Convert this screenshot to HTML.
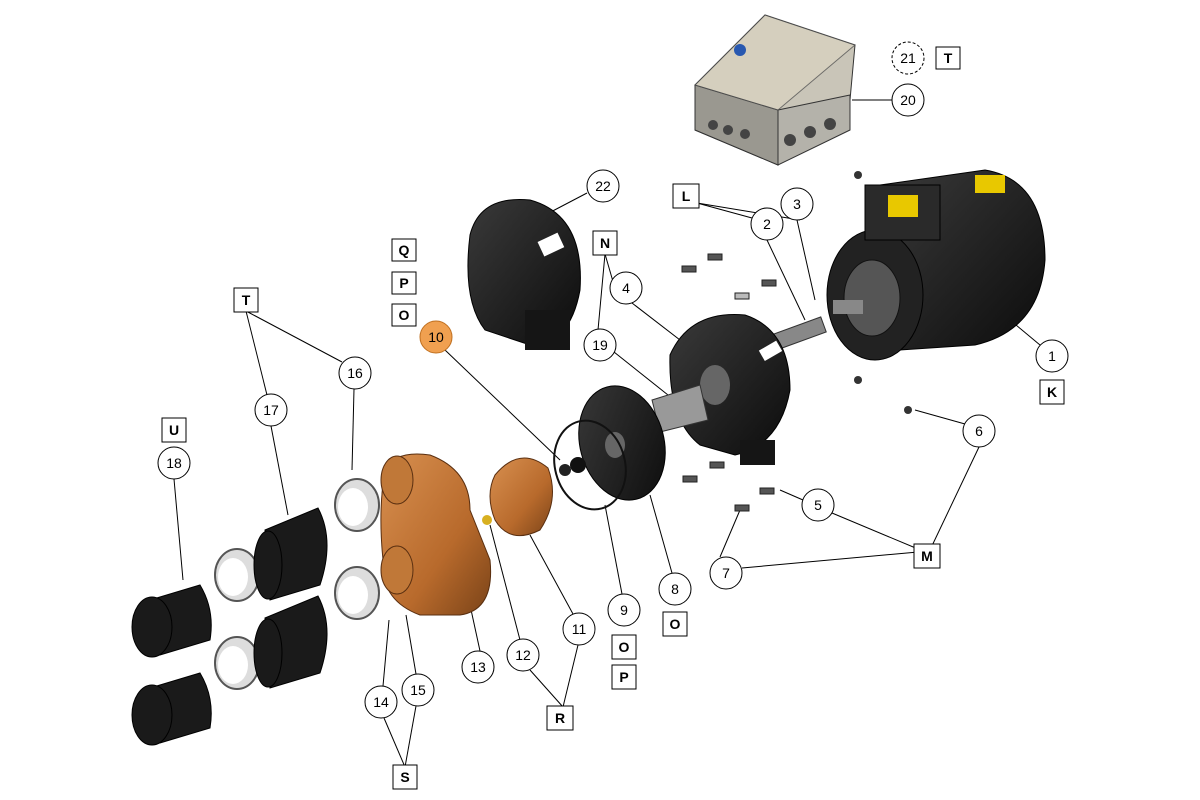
<!DOCTYPE html>
<html><head><meta charset="utf-8"><style>
html,body{margin:0;padding:0;background:#fff;width:1200px;height:800px;overflow:hidden}
svg text{font-family:"Liberation Sans",sans-serif;font-size:14px;fill:#000;text-anchor:middle;dominant-baseline:central}
</style></head><body>
<svg width="1200" height="800" viewBox="0 0 1200 800" xmlns="http://www.w3.org/2000/svg">
<defs>
<linearGradient id="cu" x1="0" y1="0" x2="1" y2="1"><stop offset="0" stop-color="#d89050"/><stop offset="0.6" stop-color="#b86a2c"/><stop offset="1" stop-color="#7a4318"/></linearGradient>
<linearGradient id="blk" x1="0" y1="0" x2="1" y2="1"><stop offset="0" stop-color="#3a3a3a"/><stop offset="1" stop-color="#0c0c0c"/></linearGradient>
</defs>
<g stroke="#000" stroke-width="1" fill="none">
<!-- leader lines -->
<line x1="852" y1="100" x2="892" y2="100"/>
<line x1="587" y1="193" x2="545" y2="215"/>
<line x1="697" y1="203" x2="800" y2="220"/><line x1="697" y1="203" x2="752" y2="218"/>
<line x1="797" y1="220" x2="815" y2="300"/><line x1="767" y1="240" x2="805" y2="320"/>
<line x1="605" y1="254" x2="614" y2="285"/><line x1="605" y1="254" x2="598" y2="330"/>
<line x1="632" y1="303" x2="680" y2="340"/>
<line x1="614" y1="352" x2="668" y2="395"/>
<line x1="445" y1="350" x2="560" y2="460"/>
<line x1="246" y1="311" x2="267" y2="395"/><line x1="246" y1="311" x2="342" y2="362"/>
<line x1="271" y1="426" x2="288" y2="515"/>
<line x1="354" y1="389" x2="352" y2="470"/>
<line x1="174" y1="479" x2="183" y2="580"/>
<line x1="1040" y1="345" x2="1010" y2="320"/>
<line x1="965" y1="424" x2="915" y2="410"/>
<line x1="979" y1="447" x2="930" y2="550"/>
<line x1="803" y1="500" x2="780" y2="490"/>
<line x1="832" y1="513" x2="918" y2="549"/>
<line x1="742" y1="568" x2="918" y2="552"/>
<line x1="720" y1="557" x2="740" y2="510"/>
<line x1="672" y1="573" x2="650" y2="495"/>
<line x1="622" y1="594" x2="605" y2="505"/>
<line x1="573" y1="614" x2="530" y2="535"/>
<line x1="520" y1="640" x2="490" y2="525"/>
<line x1="480" y1="651" x2="470" y2="605"/>
<line x1="563" y1="707" x2="530" y2="670"/><line x1="563" y1="707" x2="578" y2="645"/>
<line x1="383" y1="686" x2="389" y2="620"/><line x1="416" y1="674" x2="406" y2="615"/>
<line x1="405" y1="767" x2="384" y2="718"/><line x1="405" y1="767" x2="416" y2="706"/>
</g>
<!-- junction box -->
<polygon points="695,85 765,15 855,45 850,100 778,165 695,130" fill="#c9c5b8" stroke="#333"/>
<polygon points="695,85 778,110 778,165 695,130" fill="#9a9890" stroke="#333"/>
<polygon points="778,110 850,95 850,130 778,165" fill="#b4b2aa" stroke="#333"/>
<polygon points="695,85 765,15 855,45 778,110" fill="#d8d2c0" stroke="#555" opacity="0.8"/>
<circle cx="740" cy="50" r="6" fill="#2858b0"/>
<g fill="#444"><circle cx="713" cy="125" r="5"/><circle cx="728" cy="130" r="5"/><circle cx="745" cy="134" r="5"/><circle cx="790" cy="140" r="6"/><circle cx="810" cy="132" r="6"/><circle cx="830" cy="124" r="6"/></g>
<!-- motor -->
<path d="M880 185 L985 170 Q1045 180 1045 260 Q1040 330 975 345 L900 350 Z" fill="url(#blk)" stroke="#000"/>
<ellipse cx="875" cy="295" rx="48" ry="65" fill="#222" stroke="#000"/>
<ellipse cx="872" cy="298" rx="28" ry="38" fill="#555" stroke="#111"/>
<rect x="865" y="185" width="75" height="55" fill="#2a2a2a" stroke="#000"/>
<rect x="888" y="195" width="30" height="22" fill="#e8c800"/>
<rect x="975" y="175" width="30" height="18" fill="#e8c800"/>
<rect x="833" y="300" width="30" height="14" fill="#888"/>
<circle cx="858" cy="175" r="4" fill="#333"/><circle cx="858" cy="380" r="4" fill="#333"/><circle cx="908" cy="410" r="4" fill="#333"/>
<!-- shaft coupling -->
<rect x="775" y="325" width="50" height="16" fill="#888" stroke="#333" transform="rotate(-20 800 333)"/>
<!-- cover 22 -->
<path d="M470 235 Q480 195 530 200 Q585 215 580 290 Q570 345 530 345 L485 330 Q462 300 470 235 Z" fill="url(#blk)" stroke="#000"/>
<rect x="525" y="310" width="45" height="40" fill="#151515"/>
<rect x="540" y="237" width="22" height="16" fill="#fff" transform="rotate(-25 550 245)"/>
<!-- adapter 4 -->
<path d="M670 355 Q690 310 745 315 Q790 330 790 390 Q780 445 735 455 L700 445 Q668 420 670 355 Z" fill="url(#blk)" stroke="#000"/>
<rect x="740" y="440" width="35" height="25" fill="#151515"/>
<ellipse cx="715" cy="385" rx="15" ry="20" fill="#666"/>
<rect x="760" y="345" width="20" height="12" fill="#fff" transform="rotate(-30 770 350)"/>
<polygon points="652,400 700,385 708,420 660,432" fill="#999" stroke="#333"/>
<!-- bolts -->
<g fill="#555" stroke="#222"><rect x="682" y="266" width="14" height="6"/><rect x="708" y="254" width="14" height="6"/><rect x="762" y="280" width="14" height="6"/><rect x="735" y="293" width="14" height="6" fill="#bbb"/><rect x="683" y="476" width="14" height="6"/><rect x="710" y="462" width="14" height="6"/><rect x="735" y="505" width="14" height="6"/><rect x="760" y="488" width="14" height="6"/></g>
<!-- plate 8 -->
<ellipse cx="622" cy="443" rx="42" ry="58" fill="url(#blk)" stroke="#000" transform="rotate(-15 622 443)"/>
<ellipse cx="615" cy="445" rx="10" ry="13" fill="#666"/>
<ellipse cx="590" cy="465" rx="35" ry="45" fill="none" stroke="#111" stroke-width="2" transform="rotate(-15 590 465)"/>
<circle cx="578" cy="465" r="8" fill="#111"/><circle cx="565" cy="470" r="6" fill="#222"/>
<!-- impeller -->
<path d="M495 475 Q520 445 548 468 Q560 500 540 530 Q510 545 495 520 Q485 495 495 475 Z" fill="url(#cu)" stroke="#5a2f10"/>
<circle cx="487" cy="520" r="5" fill="#d8b020"/>
<!-- pump casing -->
<path d="M385 470 Q395 450 430 455 Q470 470 470 510 L490 560 Q495 610 460 615 L420 615 Q380 600 383 560 Q378 510 385 470 Z" fill="url(#cu)" stroke="#5a2f10"/>
<ellipse cx="397" cy="480" rx="16" ry="24" fill="#c07838" stroke="#5a2f10"/>
<ellipse cx="397" cy="570" rx="16" ry="24" fill="#c07838" stroke="#5a2f10"/>
<!-- clamps -->
<g fill="#ddd" stroke="#555" stroke-width="2">
<ellipse cx="357" cy="505" rx="22" ry="26"/><ellipse cx="357" cy="593" rx="22" ry="26"/>
<ellipse cx="237" cy="575" rx="22" ry="26"/><ellipse cx="237" cy="663" rx="22" ry="26"/></g>
<g fill="#fff"><ellipse cx="353" cy="507" rx="15" ry="19"/><ellipse cx="353" cy="595" rx="15" ry="19"/><ellipse cx="233" cy="577" rx="15" ry="19"/><ellipse cx="233" cy="665" rx="15" ry="19"/></g>
<!-- hoses -->
<g fill="#1a1a1a" stroke="#000">
<path d="M265 530 L318 508 Q335 540 320 585 L270 600 Z"/><ellipse cx="268" cy="565" rx="14" ry="34"/>
<path d="M265 618 L318 596 Q335 628 320 673 L270 688 Z"/><ellipse cx="268" cy="653" rx="14" ry="34"/>
<path d="M150 600 L200 585 Q215 610 210 640 L160 655 Z"/><ellipse cx="152" cy="627" rx="20" ry="30"/>
<path d="M150 688 L200 673 Q215 698 210 728 L160 743 Z"/><ellipse cx="152" cy="715" rx="20" ry="30"/>
</g>
<!-- callouts -->
<g fill="#fff" stroke="#000">
<circle cx="908" cy="58" r="16" stroke-dasharray="3,2"/><rect x="936" y="47" width="24" height="22"/>
<circle cx="908" cy="100" r="16"/><circle cx="603" cy="186" r="16"/>
<rect x="673" y="184" width="26" height="24"/><circle cx="797" cy="204" r="16"/><circle cx="767" cy="224" r="16"/>
<rect x="593" y="231" width="24" height="24"/><circle cx="626" cy="288" r="16"/>
<rect x="392" y="239" width="24" height="22"/><rect x="392" y="272" width="24" height="22"/><rect x="392" y="304" width="24" height="22"/>
<circle cx="600" cy="345" r="16"/>
<rect x="234" y="288" width="24" height="24"/><circle cx="355" cy="373" r="16"/><circle cx="271" cy="410" r="16"/>
<rect x="162" y="418" width="24" height="24"/><circle cx="174" cy="463" r="16"/>
<circle cx="1052" cy="356" r="16"/><rect x="1040" y="380" width="24" height="24"/>
<circle cx="979" cy="431" r="16"/><circle cx="818" cy="505" r="16"/>
<rect x="914" y="544" width="26" height="24"/><circle cx="726" cy="573" r="16"/>
<circle cx="675" cy="589" r="16"/><rect x="663" y="612" width="24" height="24"/>
<circle cx="624" cy="610" r="16"/><rect x="612" y="635" width="24" height="24"/><rect x="612" y="665" width="24" height="24"/>
<circle cx="579" cy="629" r="16"/><circle cx="523" cy="655" r="16"/><circle cx="478" cy="667" r="16"/>
<rect x="547" y="706" width="26" height="24"/>
<circle cx="381" cy="702" r="16"/><circle cx="418" cy="690" r="16"/>
<rect x="393" y="765" width="24" height="24"/>
</g>
<circle cx="436" cy="337" r="16" fill="#f0a050" stroke="#c07020"/>
<text x="908" y="58" font-size="12">21</text><text x="948" y="58" font-weight="bold">T</text>
<text x="908" y="100">20</text><text x="603" y="186">22</text>
<text x="686" y="196" font-weight="bold">L</text><text x="797" y="204">3</text><text x="767" y="224">2</text>
<text x="605" y="243" font-weight="bold">N</text><text x="626" y="288">4</text>
<text x="404" y="250" font-weight="bold">Q</text><text x="404" y="283" font-weight="bold">P</text><text x="404" y="315" font-weight="bold">O</text>
<text x="436" y="337" font-size="12" fill="#fff">10</text><text x="600" y="345">19</text>
<text x="246" y="300" font-weight="bold">T</text><text x="355" y="373">16</text><text x="271" y="410">17</text>
<text x="174" y="430" font-weight="bold">U</text><text x="174" y="463">18</text>
<text x="1052" y="356">1</text><text x="1052" y="392" font-weight="bold">K</text>
<text x="979" y="431">6</text><text x="818" y="505">5</text><text x="927" y="556" font-weight="bold">M</text><text x="726" y="573">7</text>
<text x="675" y="589">8</text><text x="675" y="624" font-weight="bold">O</text>
<text x="624" y="610">9</text><text x="624" y="647" font-weight="bold">O</text><text x="624" y="677" font-weight="bold">P</text>
<text x="579" y="629">11</text><text x="523" y="655">12</text><text x="478" y="667">13</text>
<text x="560" y="718" font-weight="bold">R</text>
<text x="381" y="702">14</text><text x="418" y="690">15</text><text x="405" y="777" font-weight="bold">S</text>
</svg>
</body></html>
